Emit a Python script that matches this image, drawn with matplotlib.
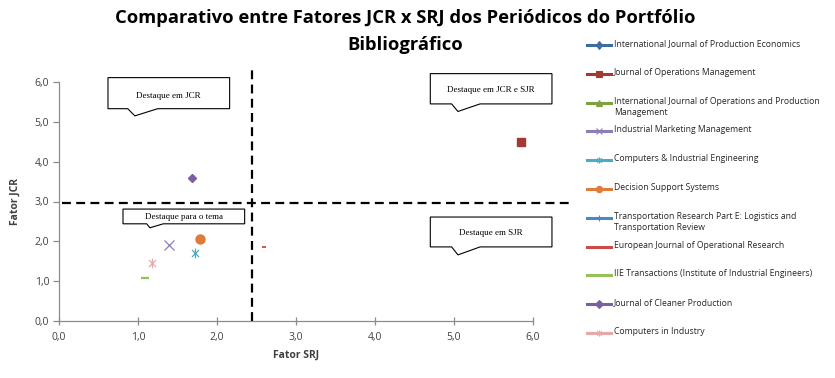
import numpy as np
import matplotlib
matplotlib.use("Agg")
import matplotlib.pyplot as plt
from matplotlib.lines import Line2D
from matplotlib.patches import Polygon
from matplotlib.path import Path

# journals, SRJ (x) and JCR (y) factors
journals = [
    "International Journal of Production Economics",
    "Journal of Operations Management",
    "International Journal of Operations and Production\nManagement",
    "Industrial Marketing Management",
    "Computers & Industrial Engineering",
    "Decision Support Systems",
    "Transportation Research Part E: Logistics and\nTransportation Review",
    "European Journal of Operational Research",
    "IIE Transactions (Institute of Industrial Engineers)",
    "Journal of Cleaner Production",
    "Computers in Industry",
]
srj = [np.nan, 5.85, np.nan, 1.39, 1.72, 1.79, np.nan, 2.59, 1.09, 1.68, 1.18]
jcr = [np.nan, 4.50, np.nan, 1.91, 1.71, 2.06, np.nan, 1.86, 1.08, 3.60, 1.46]

# thresholds used for the dashed quadrant lines
srj_cut = 2.44
jcr_cut = 2.97

xticks = [0, 1, 2, 3, 4, 5, 6]
yticks = [0, 1, 2, 3, 4, 5, 6]

# excel-ish star marker (vertical + x)
star = Path([(0, -1), (0, 1), (-0.72, -0.72), (0.72, 0.72), (-0.72, 0.72), (0.72, -0.72)],
            [Path.MOVETO, Path.LINETO, Path.MOVETO, Path.LINETO, Path.MOVETO, Path.LINETO])

colors = ["#3F6CA0", "#A33835", "#7EA040", "#8F7EB5", "#4BACC6", "#E07B39",
          "#4A86C8", "#C94B4A", "#96C05A", "#7B5FA5", "#E4A9A8"]
markers = ["d", "s", "^", "x", star, "o", "+", "_", "_", "D", star]
msizes = [5, 6, 5, 7, 7, 6.5, 6, 3.5, 6, 4.5, 7]
mews = [1, 1, 1, 0.9, 0.9, 1, 1, 1.3, 1.6, 1, 0.9]

fig = plt.figure(figsize=(8.35, 3.78), dpi=100)
W, H = 835.0, 378.0
ax = fig.add_axes([59 / W, 1 - 321 / H, 474 / W, (321 - 82) / H])

for i in range(len(journals)):
    ax.plot(srj[i], jcr[i], linestyle="none", marker=markers[i], color=colors[i],
            markersize=msizes[i], markeredgewidth=mews[i], clip_on=False, zorder=4)

ax.set_xlim(0, 6)
ax.set_ylim(0, 6)
ax.set_xticks(xticks)
ax.set_yticks(yticks)
ax.set_xticklabels([f"{v:.1f}".replace(".", ",") for v in xticks])
ax.set_yticklabels([f"{v:.1f}".replace(".", ",") for v in yticks])
for s in ["top", "right"]:
    ax.spines[s].set_visible(False)
for s in ["left", "bottom"]:
    ax.spines[s].set_color("#8C8C8C")
    ax.spines[s].set_linewidth(0.9)
ax.tick_params(axis="both", colors="#8C8C8C", labelcolor="#404040", labelsize=7.5,
               length=4, width=0.9)
ax.tick_params(axis="y", direction="out", pad=3)
ax.tick_params(axis="x", direction="inout", length=6, pad=5)
for lab in ax.get_xticklabels() + ax.get_yticklabels():
    lab.set_family("Open Sans")

ax.set_xlabel("Fator SRJ", fontsize=7.5, fontweight="bold", family="Open Sans",
              color="#404040", labelpad=5)
ax.set_ylabel("Fator JCR", fontsize=7.5, fontweight="bold", family="Open Sans",
              color="#404040", labelpad=10)

# dashed quadrant lines
ax.plot([0.04, 6.5], [jcr_cut, jcr_cut], color="black", lw=1.6, dashes=(4.0, 2.4),
        clip_on=False, zorder=3)
ax.plot([srj_cut, srj_cut], [0, 6.38], color="black", lw=1.6, dashes=(4.0, 2.4),
        clip_on=False, zorder=3)


def callout(x0, x1, y0, y1, tb0, tb1, tip, text, tx, ty):
    pts = [(x0, y0), (tb0, y0), tip, (tb1, y0), (x1, y0), (x1, y1), (x0, y1)]
    ax.add_patch(Polygon(pts, closed=True, facecolor="white", edgecolor="black",
                         lw=0.8, clip_on=False, zorder=5))
    ax.text(tx, ty, text, ha="center", va="center", fontsize=6.5,
            family="Liberation Serif", zorder=6, clip_on=False)


callout(0.62, 2.16, 5.33, 6.11, 0.87, 1.25, (0.96, 5.15), "Destaque em JCR", 1.39, 5.65)
callout(4.70, 6.24, 5.45, 6.21, 4.97, 5.33, (5.05, 5.26), "Destaque em JCR e SJR", 5.47, 5.80)
callout(4.70, 6.24, 1.86, 2.61, 4.97, 5.33, (5.05, 1.66), "Destaque em SJR", 5.47, 2.21)
callout(0.81, 2.35, 2.44, 2.81, 1.11, 1.32, (1.15, 2.34), "Destaque para o tema", 1.58, 2.61)

# title, two lines
fig.text(405 / W, 1 - 18 / H, "Comparativo entre Fatores JCR x SRJ dos Periódicos do Portfólio",
         ha="center", va="center", fontsize=13.2, fontweight="bold", family="Open Sans")
fig.text(405 / W, 1 - 45 / H, "Bibliográfico",
         ha="center", va="center", fontsize=13.2, fontweight="bold", family="Open Sans")

# legend drawn entry by entry (fixed slot height like the original)
for i, name in enumerate(journals):
    yp = 45 + 28.8 * i
    yf = 1 - yp / H
    fig.add_artist(Line2D([587 / W, 611 / W], [yf, yf], color=colors[i], lw=2.2))
    fig.add_artist(Line2D([599 / W], [yf], color=colors[i], marker=markers[i],
                          markersize=min(msizes[i], 4.5), markeredgewidth=0.8))
    fig.text(614 / W, 1 - (yp - 6) / H, name, ha="left", va="top", fontsize=6.2,
             family="Open Sans", color="#262626", linespacing=1.35)

fig.savefig("out.png", dpi=100)
